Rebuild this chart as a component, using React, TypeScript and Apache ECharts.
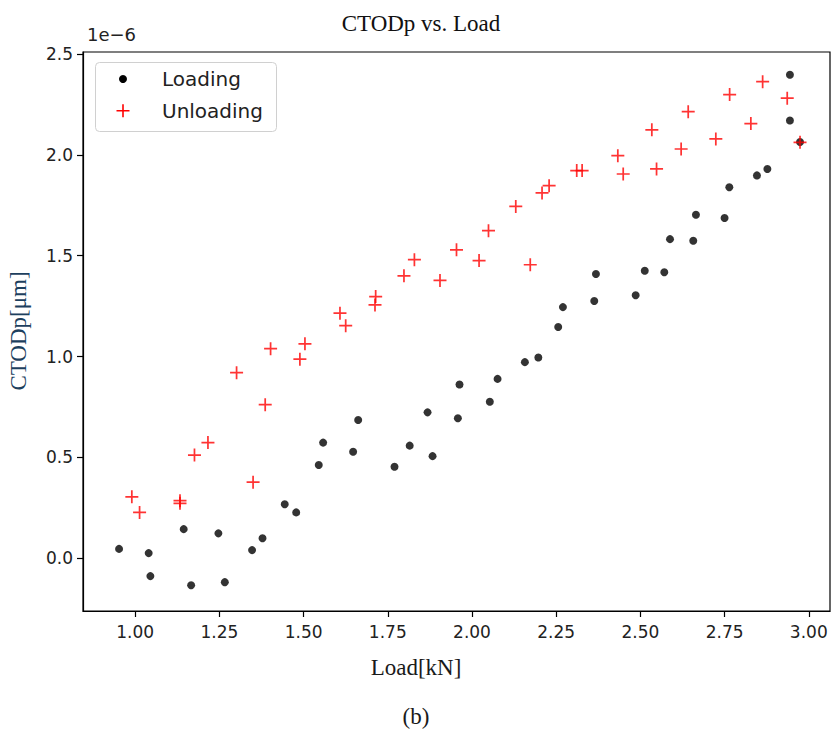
import React, { useEffect, useRef } from "react";
import * as echarts from "echarts";

const xTicks = [1.0, 1.25, 1.5, 1.75, 2.0, 2.25, 2.5, 2.75, 3.0];
const yTicks = [0.0, 0.5, 1.0, 1.5, 2.0, 2.5];

// Load [kN], CTODp [x1e-6]
const loadingX = [0.952, 1.040, 1.045, 1.144, 1.166, 1.247, 1.266, 1.347, 1.378, 1.444, 1.478, 1.545, 1.558, 1.647, 1.662, 1.770, 1.815, 1.868, 1.883, 1.958, 1.963, 2.053, 2.076, 2.157, 2.197, 2.256, 2.270, 2.363, 2.368, 2.486, 2.513, 2.571, 2.588, 2.657, 2.665, 2.750, 2.764, 2.846, 2.877, 2.944, 2.944, 2.974];
const loadingY = [0.046, 0.025, -0.089, 0.144, -0.134, 0.123, -0.119, 0.040, 0.099, 0.267, 0.227, 0.462, 0.573, 0.528, 0.685, 0.453, 0.558, 0.723, 0.506, 0.694, 0.861, 0.776, 0.889, 0.972, 0.995, 1.146, 1.245, 1.275, 1.409, 1.304, 1.425, 1.418, 1.582, 1.574, 1.703, 1.687, 1.839, 1.898, 1.930, 2.170, 2.397, 2.064];

const unloadingX = [0.990, 1.013, 1.133, 1.133, 1.176, 1.216, 1.301, 1.350, 1.386, 1.402, 1.489, 1.504, 1.608, 1.625, 1.714, 1.712, 1.798, 1.829, 1.905, 1.954, 2.021, 2.049, 2.130, 2.173, 2.208, 2.229, 2.311, 2.327, 2.433, 2.449, 2.534, 2.548, 2.621, 2.642, 2.724, 2.765, 2.828, 2.863, 2.936, 2.974];
const unloadingY = [0.304, 0.227, 0.285, 0.272, 0.511, 0.573, 0.920, 0.377, 0.761, 1.039, 0.987, 1.063, 1.215, 1.153, 1.297, 1.256, 1.400, 1.480, 1.377, 1.529, 1.476, 1.624, 1.744, 1.455, 1.811, 1.847, 1.922, 1.922, 1.996, 1.905, 2.124, 1.930, 2.029, 2.214, 2.079, 2.299, 2.155, 2.363, 2.281, 2.062];

const PLUS = "path://M0,5.2H5.2V0H6.8V5.2H12V6.8H6.8V12H5.2V6.8H0Z";

export default function App() {
  const ref = useRef<HTMLDivElement>(null);
  useEffect(() => {
    if (!ref.current) return;
    const chart = echarts.init(ref.current, null, { renderer: "svg" });
    const sans = "DejaVu Sans";
    const serif = "Liberation Serif";
    chart.setOption({
      animation: false,
      backgroundColor: "#fff",
      title: {
        text: "CTODp vs. Load",
        left: 416,
        textAlign: "center",
        top: 7,
        textStyle: { fontFamily: serif, fontSize: 23, fontWeight: "normal", color: "#111" },
      },
      grid: {
        left: 83, right: 3, top: 52, bottom: 120,
        show: true, borderColor: "#000", borderWidth: 1.2, backgroundColor: "transparent",
      },
      xAxis: {
        type: "value",
        min: 0.845,
        max: 3.063,
        axisLine: { show: true, onZero: false, lineStyle: { color: "#000", width: 1.2 } },
        axisTick: { show: true, length: 6, customValues: xTicks, lineStyle: { color: "#000", width: 1.2 } },
        axisLabel: {
          customValues: xTicks,
          formatter: (v: number) => v.toFixed(2),
          fontFamily: sans, fontSize: 17, color: "#222", margin: 12,
        },
        splitLine: { show: false },
      },
      yAxis: {
        type: "value",
        min: -0.262,
        max: 2.51,
        axisLine: { show: true, onZero: false, lineStyle: { color: "#000", width: 1.2 } },
        axisTick: { show: true, length: 6, customValues: yTicks, lineStyle: { color: "#000", width: 1.2 } },
        axisLabel: {
          customValues: yTicks,
          formatter: (v: number) => v.toFixed(1),
          fontFamily: sans, fontSize: 17, color: "#222", margin: 10,
        },
        splitLine: { show: false },
      },
      series: [
        {
          name: "Loading",
          type: "scatter",
          symbol: "circle",
          symbolSize: 8,
          itemStyle: { color: "#000" },
          data: loadingX.map((x, i) => [x, loadingY[i]]),
          z: 2,
        },
        {
          name: "Unloading",
          type: "scatter",
          symbol: PLUS,
          symbolSize: 13,
          itemStyle: { color: "#ff0000" },
          data: unloadingX.map((x, i) => [x, unloadingY[i]]),
          z: 3,
        },
      ],
      graphic: [
        {
          type: "text", left: 87, top: 25,
          style: { text: "1e\u22126", fontFamily: sans, fontSize: 18, fill: "#222" },
        },
        {
          type: "text", x: 18, y: 331, rotation: Math.PI / 2,
          style: { text: "CTODp[\u03bcm]", fontFamily: serif, fontSize: 23, fill: "#1d3f5e", align: "center", verticalAlign: "middle" },
        },
        {
          type: "text", x: 416, y: 667,
          style: { text: "Load[kN]", fontFamily: serif, fontSize: 23, fill: "#1a1a1a", align: "center", verticalAlign: "middle" },
        },
        {
          type: "text", x: 416, y: 716,
          style: { text: "(b)", fontFamily: serif, fontSize: 23, fill: "#1a1a1a", align: "center", verticalAlign: "middle" },
        },
        {
          type: "rect", shape: { x: 95.5, y: 62.5, width: 181, height: 69, r: 4 },
          style: { fill: "rgba(255,255,255,0.85)", stroke: "#d0d0d0", lineWidth: 1 }, z: 10,
        },
        {
          type: "circle", shape: { cx: 123, cy: 79, r: 4 },
          style: { fill: "#000" }, z: 11,
        },
        {
          type: "polygon",
          shape: {
            points: [
              [116.5, 110], [122.2, 110], [122.2, 104.3], [123.8, 104.3], [123.8, 110],
              [129.5, 110], [129.5, 111.6], [123.8, 111.6], [123.8, 117.3], [122.2, 117.3],
              [122.2, 111.6], [116.5, 111.6],
            ],
          },
          style: { fill: "#ff0000" }, z: 11,
        },
        {
          type: "text", x: 162, y: 79, z: 11,
          style: { text: "Loading", fontFamily: sans, fontSize: 20, fill: "#222", verticalAlign: "middle" },
        },
        {
          type: "text", x: 162, y: 111, z: 11,
          style: { text: "Unloading", fontFamily: sans, fontSize: 20, fill: "#222", verticalAlign: "middle" },
        },
      ],
    });
    return () => chart.dispose();
  }, []);
  return <div ref={ref} style={{ position: "fixed", left: 0, top: 0, width: 833, height: 731 }} />;
}
